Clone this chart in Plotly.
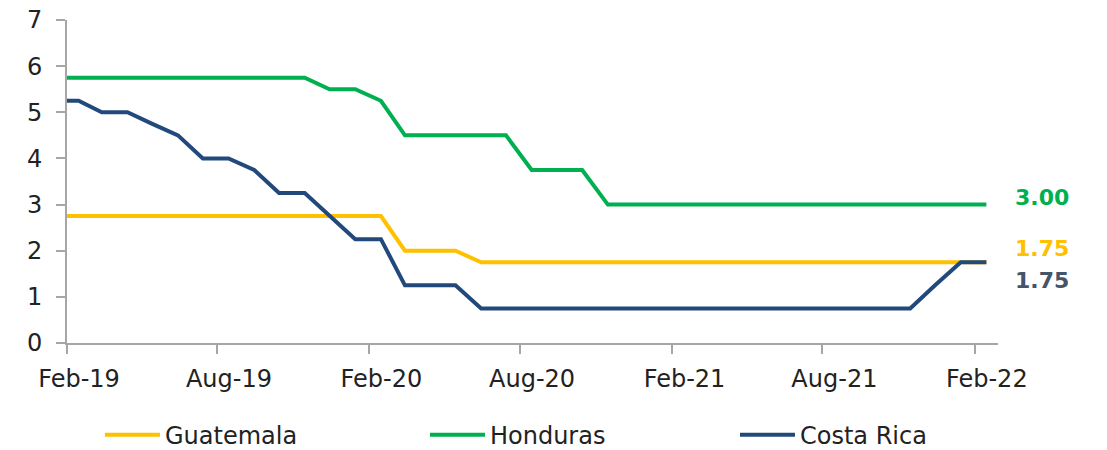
import plotly.graph_objects as go
import pandas as pd

# Monthly policy-rate observations (mid-month), Jan-2019 .. Feb-2022
dates = pd.date_range("2019-01-01", periods=38, freq="MS") + pd.Timedelta(days=14)

guatemala = [2.75]*14 + [2.0, 2.0, 2.0] + [1.75]*21
honduras = [5.75]*11 + [5.5, 5.5, 5.25] + [4.5]*5 + [3.75]*3 + [3.0]*16
costa_rica = [5.25, 5.25, 5.0, 5.0, 4.75, 4.5, 4.0, 4.0, 3.75, 3.25, 3.25, 2.75,
              2.25, 2.25, 1.25, 1.25, 1.25] + [0.75]*18 + [1.25, 1.75, 1.75]

series_names = ["Guatemala", "Honduras", "Costa Rica"]
series_colors = ["#FFC000", "#00B050", "#22497C"]
series_values = [guatemala, honduras, costa_rica]
legend_ids = ["legend", "legend2", "legend3"]
legend_x = [0.0354, 0.3845, 0.7175]

end_labels = ["3.00", "1.75", "1.75"]
end_label_values = [3.0, 1.75, 1.75]
end_label_colors = ["#00B050", "#FFC000", "#44546A"]
end_label_shift = [7, 14, -18]

tick_vals = pd.date_range("2019-02-01", "2022-02-01", freq="6MS")
tick_text = [d.strftime("%b-%y") for d in tick_vals]

FONT = "DejaVu Sans"

fig = go.Figure()
for name, color, vals, lg in zip(series_names, series_colors, series_values, legend_ids):
    fig.add_trace(go.Scatter(x=dates, y=vals, name=name, mode="lines", legend=lg,
                             line=dict(color=color, width=4)))

for txt, val, col, sh in zip(end_labels, end_label_values, end_label_colors, end_label_shift):
    fig.add_annotation(x=1.0, xref="paper", y=val, yref="y", text=f"<b>{txt}</b>",
                       showarrow=False, xanchor="left", xshift=15, yshift=sh,
                       font=dict(family=FONT, size=22, color=col))

legend_style = dict(orientation="h", xanchor="left", y=-0.285, yanchor="middle",
                    itemwidth=55, font=dict(family=FONT, size=24, color="#222222"),
                    bgcolor="rgba(0,0,0,0)")

fig.update_layout(
    width=1107, height=450,
    margin=dict(l=67, r=109, t=20, b=107, autoexpand=False),
    paper_bgcolor="white", plot_bgcolor="white",
    font=dict(family=FONT, size=24, color="#222222"),
    showlegend=True,
    **{lg: dict(x=lx, **legend_style) for lg, lx in zip(legend_ids, legend_x)},
)
fig.update_xaxes(range=["2019-02-01", "2022-03-01"], tickvals=tick_vals, ticktext=tick_text,
                 showgrid=False, showline=True, linecolor="#A6A6A6", linewidth=2,
                 ticks="outside", ticklen=9, tickcolor="#A6A6A6", tickwidth=2,
                 zeroline=False, ticklabelstandoff=4, ticklabelshift=12, automargin=False,
                 tickfont=dict(size=24))
fig.update_yaxes(range=[0, 7], dtick=1, showgrid=False, showline=True,
                 linecolor="#A6A6A6", linewidth=2, ticks="outside", ticklen=9,
                 tickcolor="#A6A6A6", tickwidth=2, zeroline=False, ticklabelstandoff=9,
                 automargin=False, tickfont=dict(size=24))

fig.write_html("out.html", config={"displayModeBar": False},
               post_script="document.body.style.margin='0';")
